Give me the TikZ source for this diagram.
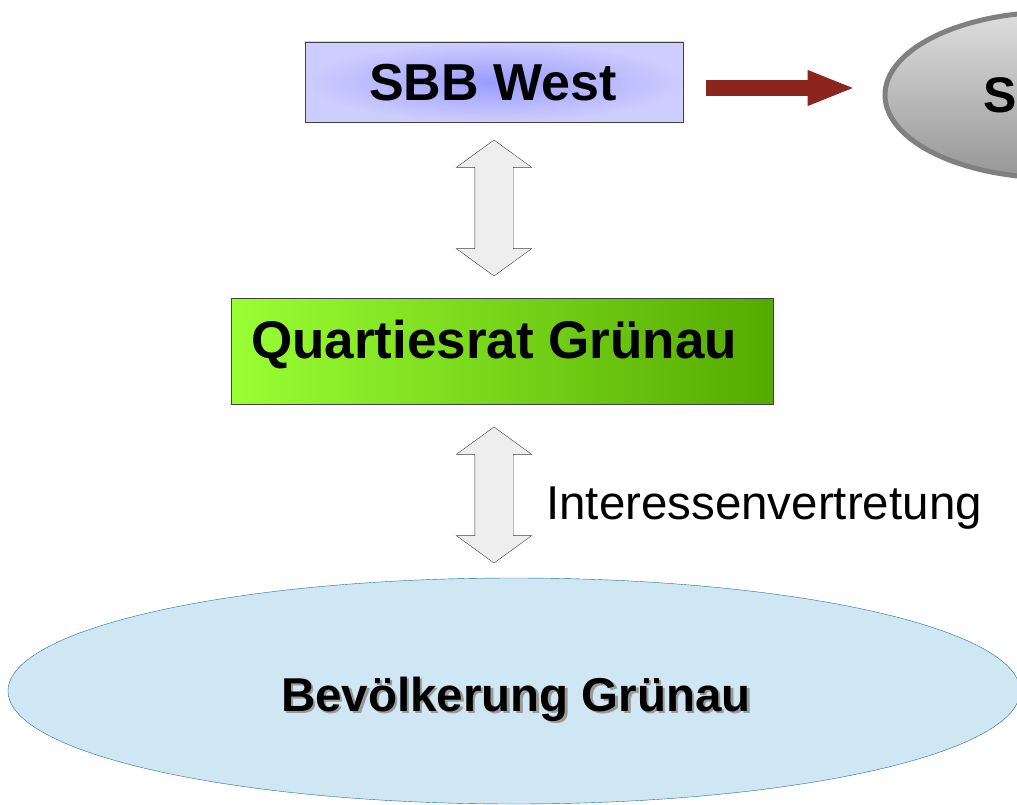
\documentclass[tikz,border=0pt]{standalone}
\usepackage{fontspec}
\setmainfont{Liberation Sans}
\usetikzlibrary{shapes.geometric, shapes.arrows, arrows.meta}
\definecolor{boxin}{RGB}{155,155,255}
\definecolor{boxout}{RGB}{205,205,255}
\definecolor{qrleft}{RGB}{153,255,51}
\definecolor{qrright}{RGB}{85,170,0}
\definecolor{bevfill}{RGB}{207,230,243}
\definecolor{bevline}{RGB}{30,110,160}
\definecolor{svtop}{RGB}{222,222,222}
\definecolor{svbottom}{RGB}{150,150,150}
\definecolor{svline}{RGB}{128,128,128}
\definecolor{linkfill}{RGB}{238,238,238}
\definecolor{redarrow}{RGB}{139,37,30}
\newcommand{\shadowed}[1]{\makebox[0pt][l]{\hspace*{2.5pt}\raisebox{-2.5pt}{\color{black!40}#1}}#1}
\tikzstyle{entity} = [rectangle, draw=black!75, minimum width=378pt, minimum height=80pt, inner sep=0pt, inner color=boxin, outer color=boxout]
\tikzstyle{council} = [rectangle, draw=black!75, minimum width=542pt, minimum height=106pt, inner sep=0pt, left color=qrleft, right color=qrright]
\tikzstyle{people} = [ellipse, draw=bevline, fill=bevfill, minimum width=1012pt, minimum height=226pt, inner sep=0pt]
\tikzstyle{company} = [ellipse, draw=svline, line width=5pt, top color=svtop, bottom color=svbottom, minimum width=340pt, minimum height=166pt, inner sep=0pt]
\tikzstyle{link} = [double arrow, draw=black!75, fill=linkfill, shape border rotate=90, minimum height=136pt, double arrow head extend=18.5pt, double arrow tip angle=108, inner sep=19pt]
\tikzstyle{arrow} = [line width=16pt, draw=redarrow, -{Triangle[length=48pt, width=32pt]}]
\begin{document}
\begin{tikzpicture}[x=1pt, y=-1pt]
        \useasboundingbox (0,0) rectangle (1017,805);
        \clip (0,0) rectangle (1017,805);
        % Nodes
        \node (sbb) [entity] at (494,82) {};
        \node (sbbtext) [anchor=base, font=\fontsize{52}{60}\selectfont\bfseries] at (493,101) {SBB West};
        \node (sv) [company] at (1055,95) {};
        \node (svtext) [anchor=base west, inner sep=0pt, font=\fontsize{50}{60}\selectfont\bfseries] at (983,113) {S};
        \node (qr) [council] at (502,351) {};
        \node (qrtext) [anchor=base, font=\fontsize{53}{60}\selectfont\bfseries] at (494,358) {Quartiesrat Grünau};
        \node (bev) [people] at (514,691) {};
        \node (bevtext) [anchor=base, font=\fontsize{47.5}{56}\selectfont\bfseries] at (516,711) {\shadowed{Bevölkerung Grünau}};
        \node (link1) [link] at (494,208) {};
        \node (link2) [link] at (494,495) {};
        \node (ivtext) [anchor=base west, inner sep=0pt, font=\fontsize{47.5}{56}\selectfont] at (546,519) {Interessenvertretung};

        % Arrows
        \draw [arrow] ([shift={(23,6)}]sbb.east) -- ([shift={(-27,-7)}]sv.west);
    \end{tikzpicture}
\end{document}
